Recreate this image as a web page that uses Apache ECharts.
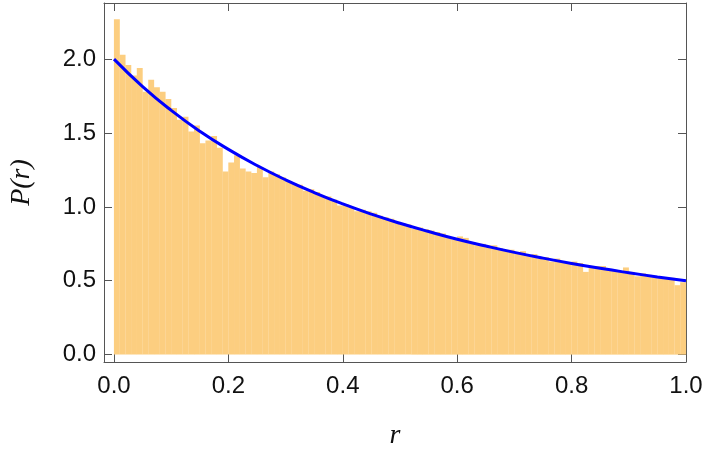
<!DOCTYPE html><html><head><meta charset="utf-8">
<script src="https://cdn.jsdelivr.net/npm/echarts@6/dist/echarts.min.js"></script>
<style>html,body{margin:0;padding:0;background:#fff}#c{width:710px;height:456px}</style></head><body><div id="c"></div>
<script>
const histValues=[2.27,2.03,1.96,1.89,1.94,1.78,1.86,1.81,1.78,1.73,1.67,1.59,1.61,1.51,1.55,1.43,1.45,1.48,1.40,1.24,1.30,1.35,1.26,1.24,1.23,1.27,1.20,
1.24,1.22,1.20,1.17,1.16,1.15,1.11,1.12,1.10,1.07,1.07,1.05,1.01,1.02,1.00,0.97,0.98,0.97,0.96,0.94,0.93,0.92,0.90,0.89,0.88,0.85,0.86,0.85,0.84,0.83,0.82,0.79,0.78,0.80,0.79,0.75,0.74,0.75,0.74,0.74,0.72,0.71,0.71,0.69,0.70,0.67,0.68,0.65,0.66,0.63,0.65,0.63,0.62,0.63,0.62,0.56,0.60,0.60,0.60,0.58,0.57,0.56,0.59,0.56,0.53,0.55,0.54,0.53,0.52,0.52,0.52,0.47,0.49];
const curveR=[0,0.05,0.1,0.15,0.2,0.25,0.3,0.35,0.4,0.45,0.5,0.55,0.6,0.65,0.7,0.75,0.8,0.85,0.9,0.95,1.0];
const curveP=[2.0,1.814,1.653,1.512,1.389,1.28,1.183,1.097,1.020,0.951,0.889,0.833,0.781,0.735,0.692,0.653,0.617,0.584,0.554,0.526,0.5];
const xTicks=[0,0.2,0.4,0.6,0.8,1.0];
const yTicks=[0,0.5,1.0,1.5,2.0];
const nBins=histValues.length;
const bars=histValues.map((v,i)=>[(i+0.5)/nBins,v]);
const curve=curveR.map((r,i)=>[r,curveP[i]]);
const lab={fontFamily:'Liberation Sans',fontSize:24,color:'#111'};
const ch=echarts.init(document.getElementById('c'));
const xBase={type:'value',min:-0.0175,max:1,axisLine:{onZero:false,lineStyle:{color:'#555'}},splitLine:{show:false}};
const yBase={type:'value',min:-0.05,max:2.38,axisLine:{onZero:false,lineStyle:{color:'#555'}},splitLine:{show:false}};
ch.setOption({animation:false,
grid:{left:101,right:24,top:3,bottom:94},
xAxis:[Object.assign({},xBase,{position:'bottom',axisTick:{inside:true,length:8,customValues:xTicks,lineStyle:{color:'#555'}},
 axisLabel:Object.assign({},lab,{customValues:xTicks,formatter:v=>v.toFixed(1),margin:12}),
 name:'r',nameLocation:'middle',nameGap:60,nameTextStyle:{fontFamily:'Liberation Serif',fontStyle:'italic',fontSize:28,color:'#111'}}),
 Object.assign({},xBase,{position:'top',axisTick:{inside:true,length:8,customValues:xTicks,lineStyle:{color:'#555'}},axisLabel:{show:false}})],
yAxis:[Object.assign({},yBase,{position:'left',axisTick:{inside:true,length:8,customValues:yTicks,lineStyle:{color:'#555'}},
 axisLabel:Object.assign({},lab,{customValues:yTicks,formatter:v=>v.toFixed(1),margin:8}),
 name:'P(r)',nameLocation:'middle',nameGap:68,nameRotate:90,nameTextStyle:{fontFamily:'Liberation Serif',fontStyle:'italic',fontSize:28,color:'#111'}}),
 Object.assign({},yBase,{position:'right',axisTick:{inside:true,length:8,customValues:yTicks,lineStyle:{color:'#555'}},axisLabel:{show:false}})],
series:[
{type:'bar',data:bars,barWidth:5.9,itemStyle:{color:'#FCCE80'}},
{type:'line',data:curve,smooth:true,symbol:'none',lineStyle:{color:'#0000FF',width:3},z:5}
]});
</script></body></html>
